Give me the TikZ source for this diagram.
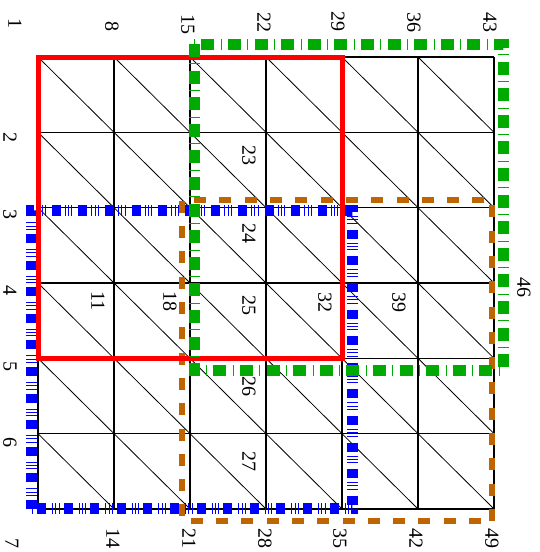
\documentclass[tikz,border=0pt]{standalone}
\usepackage{fontspec}
\setmainfont{Liberation Serif}
\usepackage{tikz}
\usetikzlibrary{calc}
\definecolor{meshgreen}{RGB}{0,170,0}
\definecolor{meshorange}{RGB}{190,100,0}
\tikzset{
  gridline/.style={draw=black, line width=1.6pt},
  diagline/.style={draw=black, line width=0.8pt},
  vlabel/.style={
    rotate=-90, inner sep=0pt,
    font=\fontsize{20}{20}\selectfont
  },
  redbox/.style={draw=red, line width=5pt},
  greenbox/.style={
    draw=meshgreen, line width=11pt,
    dash pattern=on 13pt off 6.3pt on 1pt off 6.3pt
  },
  bluebox/.style={
    draw=blue, line width=11pt,
    dash pattern=on 9pt off 4pt on 1pt off 2.3pt on 1pt off 2.3pt on 1pt off 6pt
  },
  orangebox/.style={
    draw=meshorange, line width=6pt,
    dash pattern=on 12pt off 13.3pt
  }
}

\begin{document}
\begin{tikzpicture}[x=1pt, y=-1pt]
  \useasboundingbox (0,0) rectangle (539,552);

  % mesh vertices, numbered down each column
  \foreach \c in {0,...,6}
    \foreach \r in {0,...,6} {
      \pgfmathtruncatemacro{\n}{7*\c+\r+1}
      \coordinate (v\n) at ({38+76*\c},{57+75.33*\r});
    }

  % diagonals
  \foreach \c in {0,...,5}
    \foreach \r in {0,...,5} {
      \pgfmathtruncatemacro{\a}{7*\c+\r+1}
      \pgfmathtruncatemacro{\b}{7*\c+\r+9}
      \draw[diagline] (v\a) -- (v\b);
    }

  % grid
  \foreach \k in {0,...,6} {
    \pgfmathtruncatemacro{\t}{7*\k+1}
    \pgfmathtruncatemacro{\u}{7*\k+7}
    \pgfmathtruncatemacro{\l}{\k+1}
    \pgfmathtruncatemacro{\q}{\k+43}
    \draw[gridline] (v\t) -- (v\u);
    \draw[gridline] (v\l) -- (v\q);
  }

  % subdomains
  \draw[orangebox] ($(v49)+(-2,12)$) rectangle ($(v17)+(-8,-8)$);
  \draw[bluebox] ($(v7)+(-7,0)$) rectangle ($(v31)+(10,3)$);
  \draw[redbox] (v1) rectangle (v33);
  \draw[greenbox] ($(v15)+(4,-13)$) rectangle ($(v47)+(9,12)$);

  % vertex labels
  \foreach \n/\x/\y in {1/15/23, 8/112/26, 15/188/24, 22/264/22, 29/338/21,
      36/414/22, 43/490/22, 2/10/137, 3/10/214, 4/10/290, 5/10/366, 6/10/442,
      7/12/543, 14/113/538, 21/189/538, 28/265/538, 35/340/538, 42/416/538,
      49/492/538, 11/98/301, 18/170/301, 23/249/155, 24/249/233, 25/249/305,
      26/249/386, 27/249/461, 32/325/302, 39/399/302, 46/524/287}
    \node[vlabel] (n\n) at (\x,\y) {\n};
\end{tikzpicture}
\end{document}
